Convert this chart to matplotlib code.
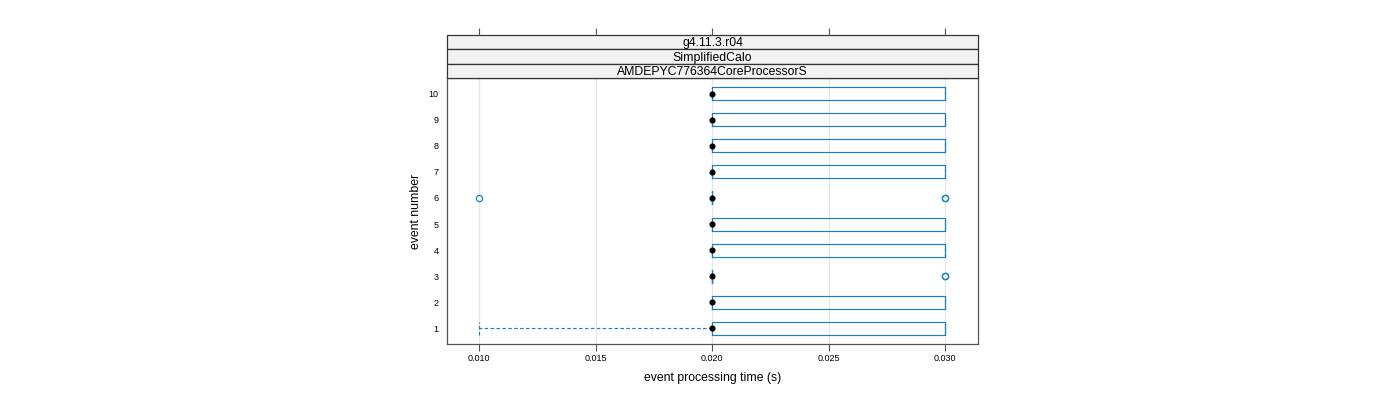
import matplotlib
matplotlib.use("Agg")
import matplotlib.pyplot as plt
from matplotlib.patches import Rectangle

plt.rcParams['font.family'] = ['Liberation Sans', 'DejaVu Sans']

# per-event box statistics of the processing time (s)
events = [1, 2, 3, 4, 5, 6, 7, 8, 9, 10]
whisker_lo = [0.010, 0.020, 0.020, 0.020, 0.020, 0.020, 0.020, 0.020, 0.020, 0.020]
q1 = [0.020, 0.020, 0.020, 0.020, 0.020, 0.020, 0.020, 0.020, 0.020, 0.020]
medians = [0.020, 0.020, 0.020, 0.020, 0.020, 0.020, 0.020, 0.020, 0.020, 0.020]
q3 = [0.030, 0.030, 0.020, 0.030, 0.030, 0.020, 0.030, 0.030, 0.030, 0.030]
whisker_hi = [0.030, 0.030, 0.020, 0.030, 0.030, 0.020, 0.030, 0.030, 0.030, 0.030]
outliers = [[], [], [0.030, 0.030], [], [], [0.010, 0.030, 0.030], [], [], [], []]

strip_labels = ['g4.11.3.r04', 'SimplifiedCalo', 'AMDEPYC776364CoreProcessorS']
x_ticks = [0.010, 0.015, 0.020, 0.025, 0.030]
x_ticklabels = ['0.010', '0.015', '0.020', '0.025', '0.030']

box_col = '#1a7fc6'
frame_col = '#555555'

W, H = 1400, 400
fig = plt.figure(figsize=(14, 4), dpi=100)
left, right = 447 / W, 978 / W
bottom, top = 1 - 344 / H, 1 - 78 / H
ax = fig.add_axes([left, bottom, right - left, top - bottom])

xlim = (0.01 - 32 / 23300, 0.03 + 33 / 23300)

stats = []
for i in range(len(events)):
    stats.append(dict(whislo=whisker_lo[i], q1=q1[i], med=medians[i], q3=q3[i],
                      whishi=whisker_hi[i], fliers=outliers[i]))

ax.bxp(stats, positions=events, orientation='horizontal', widths=0.5,
       capwidths=0.5, showfliers=True, patch_artist=False,
       boxprops=dict(color=box_col, linewidth=0.85),
       whiskerprops=dict(color=box_col, linewidth=0.85, linestyle=(0, (3, 2))),
       capprops=dict(color=box_col, linewidth=0.85, linestyle=(0, (3, 2))),
       medianprops=dict(linewidth=0),
       flierprops=dict(marker='o', markerfacecolor='none', markeredgecolor=box_col,
                       markersize=4.5, markeredgewidth=0.9))
ax.plot(medians, events, 'o', color='black', markersize=3.4, zorder=5)

ax.set_xlim(*xlim)
ax.set_ylim(0.385, 10.615)
for xt in x_ticks:
    ax.axvline(xt, color='#e6e6e6', linewidth=0.9, zorder=0)
ax.set_xticks(x_ticks)
ax.set_xticklabels(x_ticklabels)
ax.set_yticks(events)
ax.set_yticklabels([str(e) for e in events])
ax.tick_params(axis='x', direction='out', length=5, width=0.8, color=frame_col,
               labelsize=6.5, pad=2.5)
ax.tick_params(axis='y', length=0, labelsize=6.5, pad=6)
for sp in ax.spines.values():
    sp.set_color(frame_col)
    sp.set_linewidth(0.9)
ax.set_xlabel('event processing time (s)', fontsize=8.8, labelpad=6)
ax.set_ylabel('event number', fontsize=8.8, labelpad=5)

# strips with top ticks
sax = fig.add_axes([left, top, right - left, (78 - 35) / H])
sax.set_xlim(*xlim)
sax.set_ylim(0, 3)
for i, lab in enumerate(strip_labels):
    y0 = 2 - i
    sax.add_patch(Rectangle((xlim[0], y0), xlim[1] - xlim[0], 1, facecolor='#f2f2f2',
                            edgecolor='#333333', linewidth=0.9, clip_on=False))
    sax.text(sum(xlim) / 2, y0 + 0.42, lab, ha='center', va='center', fontsize=8.8)
sax.set_yticks([])
sax.set_xticks(x_ticks)
sax.xaxis.tick_top()
sax.tick_params(axis='x', direction='out', length=5, width=0.8, color=frame_col,
                labeltop=False, labelbottom=False)
for sp in sax.spines.values():
    sp.set_visible(False)

fig.savefig('out.png', dpi=100)
